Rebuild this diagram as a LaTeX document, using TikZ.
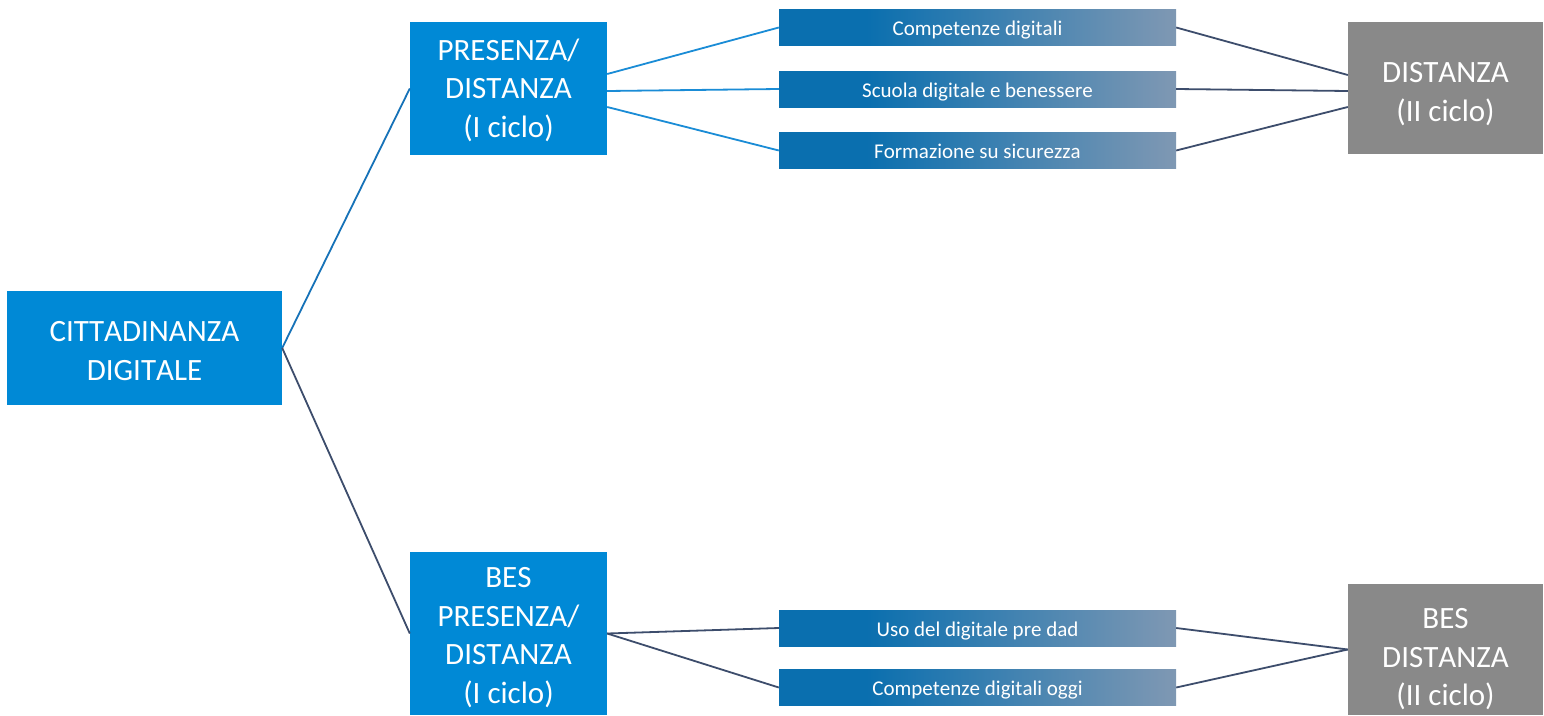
\documentclass[tikz,border=0pt]{standalone}
\usepackage{fontspec}
\setmainfont{Carlito}[Kerning=Off]
\definecolor{mainblue}{HTML}{0089D6}
\definecolor{boxgray}{HTML}{898989}
\definecolor{bardark}{HTML}{0A6FAF}
\definecolor{barlight}{HTML}{7F98B3}
\definecolor{lineblue}{HTML}{1A8CD6}
\definecolor{linedeep}{HTML}{1672B8}
\definecolor{lineslate}{HTML}{3D4D6C}
\pgfdeclarehorizontalshading{barshade}{100bp}{color(0bp)=(bardark); color(25bp)=(bardark); color(36bp)=(bardark); color(75bp)=(barlight); color(100bp)=(barlight)}
\tikzset{
  bigbox/.style={fill=mainblue, draw=none, inner sep=0pt, text=white, align=center, font=\fontsize{31}{38.5}\selectfont, text depth=5pt},
  graybox/.style={bigbox, fill=boxgray},
  barbox/.style={shading=barshade, draw=none, inner sep=0pt, minimum width=397pt, minimum height=36pt, text=white, font=\fontsize{21}{24}\selectfont, text height=18pt, text depth=2pt},
  conn/.style={line width=1.8pt, draw=lineslate},
  connblue/.style={line width=1.8pt, draw=lineblue},
}
\begin{document}
\begin{tikzpicture}[x=1pt,y=-1pt]
\useasboundingbox[fill=white] (0,0) rectangle (1544,715);
% main boxes
\node[bigbox, minimum width=275pt, minimum height=114pt, text height=69pt] (cit) at (144.5,348) {CITTADINANZA\\DIGITALE};
\node[bigbox, minimum width=197pt, minimum height=133pt, text height=102pt] (pd) at (508.5,88.5) {PRESENZA/\\DISTANZA\\(I ciclo)};
\node[bigbox, minimum width=197pt, minimum height=163pt, text height=144pt] (bes) at (508.5,633.5) {BES\\PRESENZA/\\DISTANZA\\(I ciclo)};
\node[graybox, minimum width=195pt, minimum height=132pt, text height=71pt] (dist) at (1445.5,88) {DISTANZA\\(II ciclo)};
\node[graybox, minimum width=195pt, minimum height=131pt, text height=117.4pt] (besd) at (1445.5,649.5) {BES\\DISTANZA\\(II ciclo)};
% bars
\node[barbox] (b1) at (977.5,27.5) {Competenze digitali};
\node[barbox] (b2) at (977.5,89) {Scuola digitale e benessere};
\node[barbox] (b3) at (977.5,150.5) {Formazione su sicurezza};
\node[barbox] (b4) at (977.5,628) {Uso del digitale pre dad};
\node[barbox] (b5) at (977.5,687.5) {Competenze digitali oggi};
% connectors
\draw[line width=1.8pt, draw=linedeep] (cit.east) -- (pd.west);
\draw[conn] (cit.east) -- (bes.west);
\draw[connblue] ([yshift=14.5pt]pd.east) -- (b1.west);
\draw[connblue] ([yshift=-2.5pt]pd.east) -- (b2.west);
\draw[connblue] ([yshift=-18.5pt]pd.east) -- (b3.west);
\draw[conn] (b1.east) -- ([yshift=13pt]dist.west);
\draw[conn] (b2.east) -- ([yshift=-3pt]dist.west);
\draw[conn] (b3.east) -- ([yshift=-19pt]dist.west);
\draw[conn] (bes.east) -- (b4.west);
\draw[conn] (bes.east) -- (b5.west);
\draw[conn] (b4.east) -- (besd.west);
\draw[conn] (b5.east) -- (besd.west);
\end{tikzpicture}
\end{document}
